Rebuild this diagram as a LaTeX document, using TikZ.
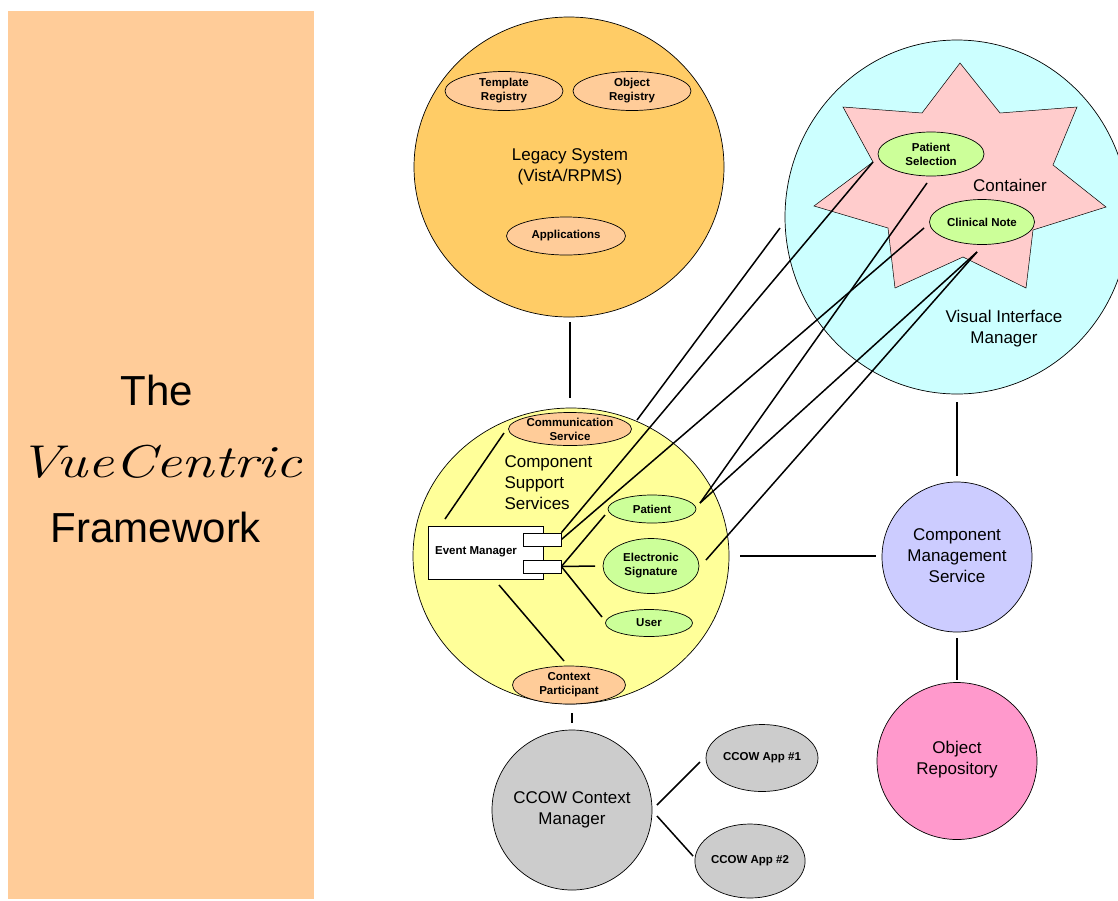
\documentclass[tikz,border=0pt]{standalone}
\usepackage{fontspec}
\setsansfont{Liberation Sans}
\usetikzlibrary{shapes.geometric}
\definecolor{panel}{HTML}{FFCC99}
\definecolor{legacyc}{HTML}{FFCC66}
\definecolor{peach}{HTML}{FFCC99}
\definecolor{vimc}{HTML}{CCFFFF}
\definecolor{starc}{HTML}{FFCCCC}
\definecolor{greenc}{HTML}{CCFF99}
\definecolor{cssc}{HTML}{FFFF99}
\definecolor{cmsc}{HTML}{CCCCFF}
\definecolor{orc}{HTML}{FF99CC}
\definecolor{ccowc}{HTML}{CCCCCC}
\begin{document}
\begin{tikzpicture}[x=1pt,y=-1pt,
  lbl/.style={font=\sffamily\bfseries\fontsize{11.5}{14}\selectfont, align=center},
  big/.style={font=\sffamily\fontsize{17}{21}\selectfont, align=center},
  world/.style={ellipse, draw, line width=0.7pt, inner sep=0pt},
  sub/.style={ellipse, draw, line width=0.7pt, inner sep=0pt, lbl},
  boxn/.style={rectangle, draw, line width=0.7pt, fill=white, inner sep=0pt},
  link/.style={line width=1.5pt}]
\useasboundingbox (0,0) rectangle (1118,900);
\clip (0,0) rectangle (1118,900);
\fill[white] (0,0) rectangle (1118,900);

% left panel
\node[rectangle, fill=panel, minimum width=306, minimum height=888, inner sep=0pt] (panel) at (161,455) {};
\node[font=\sffamily\fontsize{42}{48}\selectfont] (the) at (157,390) {The};
\node[font=\rmfamily\itshape\fontsize{46}{52}\selectfont, xscale=1.28] (vue) at (160,462) {VueCentric};
\node[font=\sffamily\fontsize{42}{48}\selectfont] (fw) at (156,527) {Framework};

% big worlds
\node[world, fill=legacyc, minimum width=310, minimum height=300] (legacy) at (569,167) {};
\node[big] (legacyt) at (570,167) {Legacy System\\(VistA/RPMS)};
\node[sub, fill=peach, minimum width=118, minimum height=39] (treg) at (504,91) {Template\\Registry};
\node[sub, fill=peach, minimum width=118, minimum height=39] (oreg) at (632,91) {Object\\Registry};
\node[sub, fill=peach, minimum width=119, minimum height=38] (apps) at (566,236) {Applications};

\node[world, fill=vimc, minimum width=344, minimum height=354] (vim) at (957,217) {};
\filldraw[fill=starc, draw=black, line width=0.5pt]
  (960,63) -- (1000,113) -- (1077,107) -- (1053,165) -- (1106,207) -- (1033,230)
  -- (1026,288) -- (963,257) -- (895,288) -- (888,228) -- (814,206) -- (873,162)
  -- (843,107) -- (922,113) -- cycle;
\node[big] (cont) at (1010,185) {Container};
\node[big] (vimt) at (1004,329) {Visual Interface\\Manager};
\node[sub, fill=greenc, minimum width=106, minimum height=44] (psel) at (931,154) {Patient\\Selection};
\node[sub, fill=greenc, minimum width=105, minimum height=45] (cnote) at (982,222) {Clinical Note};

\node[world, fill=cssc, minimum width=316, minimum height=296] (css) at (571,556) {};
\node[big, align=left, anchor=west] (csst) at (501,483) {Component\\Support\\Services};
\node[sub, fill=peach, minimum width=123, minimum height=33] (comm) at (570,429) {Communication\\Service};
\node[sub, fill=peach, minimum width=113, minimum height=38] (ctxp) at (569,685) {Context\\Participant};
\node[sub, fill=greenc, minimum width=88, minimum height=28] (pat) at (652,509) {Patient};
\node[sub, fill=greenc, minimum width=96, minimum height=55] (esig) at (651,566) {Electronic\\Signature};
\node[sub, fill=greenc, minimum width=87, minimum height=27] (user) at (649,623) {User};
\node[boxn, minimum width=115, minimum height=53] (em) at (485.5,552.5) {};
\node[lbl] (emt) at (476,552) {Event Manager};
\node[boxn, minimum width=38, minimum height=13] (portU) at (542,539.5) {};
\node[boxn, minimum width=38, minimum height=13] (portL) at (542,566.5) {};

\node[world, fill=cmsc, minimum width=150, minimum height=150] (cms) at (957,557) {};
\node[big] (cmst) at (957,556) {Component\\Management\\Service};
\node[world, fill=orc, minimum width=160, minimum height=157] (orep) at (957,761) {};
\node[big] (orept) at (957,760) {Object\\Repository};
\node[world, fill=ccowc, minimum width=160, minimum height=160] (ccow) at (572,810) {};
\node[big] (ccowt) at (572,810) {CCOW Context\\Manager};
\node[sub, fill=ccowc, minimum width=112, minimum height=67] (app1) at (762,758) {CCOW App \#1};
\node[sub, fill=ccowc, minimum width=106, minimum height=74] (app2) at (750,861) {CCOW App \#2};

% connector end points
\coordinate (lgA) at (570,322); \coordinate (lgB) at (570,398);
\coordinate (vcA) at (957,402); \coordinate (vcB) at (957,476);
\coordinate (coA) at (957,638); \coordinate (coB) at (957,680);
\coordinate (ecA) at (740,556); \coordinate (ecB) at (876,556);
\coordinate (cvA) at (637,420); \coordinate (cvB) at (780,228);
\coordinate (psA) at (873,162); \coordinate (psB) at (927,183);
\coordinate (cnA) at (924,228); \coordinate (cnB) at (977,252);
\coordinate (patR) at (700,503); \coordinate (esR) at (706,560);
\coordinate (patL) at (605,515); \coordinate (esL) at (595,566); \coordinate (usL) at (602,617);
\coordinate (emA) at (445,519); \coordinate (cmB) at (504,433);
\coordinate (emB) at (499,585); \coordinate (cpA) at (564,661);
\coordinate (ctA) at (572,713); \coordinate (ctB) at (572,723);
\coordinate (k1) at (657,805); \coordinate (a1) at (700,762);
\coordinate (k2) at (657,816); \coordinate (a2) at (693,856);

\draw[link] (lgA) -- (lgB);
\draw[link] (vcA) -- (vcB);
\draw[link] (coA) -- (coB);
\draw[link] (ecA) -- (ecB);
\draw[link] (cvA) -- (cvB);
\draw[link] (portU.north east) -- (psA);
\draw[link] (portU.east) -- (cnA);
\draw[link] (patR) -- (psB);
\draw[link] (patR) -- (cnB);
\draw[link] (esR) -- (cnB);
\draw[link] (portL.east) -- (patL);
\draw[link] (portL.east) -- (esL);
\draw[link] (portL.east) -- (usL);
\draw[link] (emA) -- (cmB);
\draw[link] (emB) -- (cpA);
\draw[link] (ctA) -- (ctB);
\draw[link] (k1) -- (a1);
\draw[link] (k2) -- (a2);
\end{tikzpicture}
\end{document}
